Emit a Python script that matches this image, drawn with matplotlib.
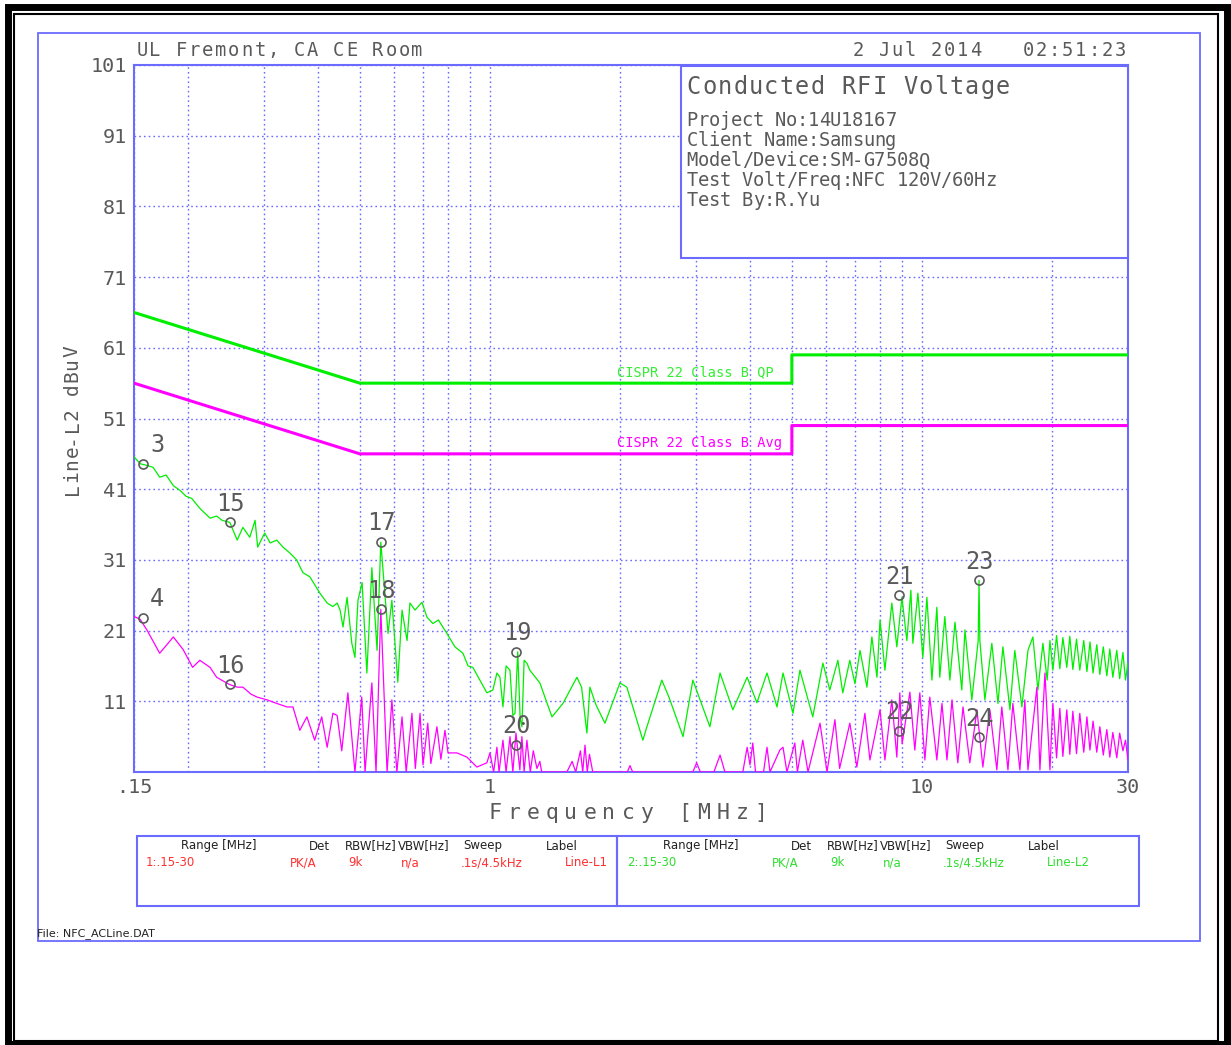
import matplotlib
matplotlib.use('Agg')
import matplotlib.pyplot as plt
from matplotlib.patches import Rectangle
from matplotlib.transforms import Affine2D

# ===================== Data =====================
# Line-L2 peak trace (green), MHz / dBuV
green_f = [0.150, 0.155, 0.160, 0.166, 0.172, 0.178, 0.185, 0.192, 0.198, 0.204,
           0.213, 0.225, 0.233, 0.240, 0.250, 0.260, 0.268, 0.278, 0.286, 0.290,
           0.301, 0.310, 0.321, 0.332, 0.344, 0.357, 0.369, 0.383, 0.404, 0.420,
           0.433, 0.443, 0.450, 0.457, 0.467, 0.479, 0.487, 0.495, 0.506, 0.519,
           0.533, 0.548, 0.559, 0.581, 0.593, 0.612, 0.626, 0.643, 0.653, 0.671,
           0.696, 0.715, 0.738, 0.760, 0.795, 0.830, 0.866, 0.890, 0.913, 0.948,
           0.984, 1.016, 1.038, 1.055, 1.072, 1.090, 1.113, 1.130, 1.143, 1.160,
           1.175, 1.186, 1.200, 1.218, 1.237, 1.305, 1.392, 1.476, 1.590, 1.630,
           1.677, 1.704, 1.760, 1.846, 2.000, 2.075, 2.260, 2.309, 2.500, 2.600,
           2.800, 2.950, 3.230, 3.410, 3.650, 3.940, 4.150, 4.380, 4.620, 4.770,
           5.030, 5.220, 5.590, 5.900, 6.120, 6.390, 6.560, 6.810, 7.000, 7.190,
           7.460, 7.660, 7.870, 8.000, 8.210, 8.520, 8.750, 8.990, 9.230, 9.430,
           9.530, 9.790, 10.05, 10.27, 10.55, 10.83, 11.00, 11.30, 11.61, 11.93,
           12.37, 12.58, 13.05, 13.50, 13.56, 13.62, 13.99, 14.52, 15.00, 15.40,
           15.99, 16.41, 17.04, 17.60, 18.07, 18.56, 19.06, 19.50, 19.79, 20.10,
           20.50, 20.86, 21.20, 21.65, 22.00, 22.36, 22.80, 23.20, 23.70, 24.10,
           24.50, 24.90, 25.40, 25.82, 26.30, 26.80, 27.23, 27.67, 28.26, 28.70,
           29.20, 29.60, 30.00]
green_db = [45.6, 44.6, 44.4, 44.1, 42.7, 43.0, 41.5, 40.8, 40.0, 39.7,
            38.3, 36.9, 37.2, 36.6, 36.3, 33.8, 35.6, 34.2, 36.6, 32.8,
            34.8, 33.4, 33.8, 32.8, 32.0, 31.0, 29.2, 28.6, 26.3, 24.9,
            24.4, 24.9, 23.9, 21.5, 25.7, 19.2, 17.2, 25.3, 27.8, 15.0,
            29.9, 18.2, 33.5, 20.6, 25.3, 13.7, 23.9, 19.6, 24.9, 23.9,
            25.0, 22.9, 22.0, 22.5, 20.6, 18.7, 17.8, 16.0, 15.8, 14.0,
            12.2, 12.6, 15.0, 14.4, 10.2, 16.0, 15.4, 9.0, 9.3, 18.0,
            8.5, 7.4, 16.8, 16.4, 15.4, 13.6, 8.8, 10.7, 14.4, 13.0,
            6.5, 13.0, 10.5, 7.9, 13.6, 13.0, 5.5, 7.4, 14.0, 11.5,
            6.0, 14.0, 7.4, 15.0, 9.8, 14.4, 10.8, 15.0, 10.2, 15.0,
            9.3, 15.4, 8.8, 16.4, 12.6, 16.8, 12.2, 16.8, 13.5, 18.2,
            13.0, 20.1, 14.4, 22.5, 15.4, 24.9, 18.7, 25.7, 19.6, 26.7,
            19.2, 26.3, 17.2, 25.7, 14.0, 24.3, 14.4, 23.0, 14.0, 22.2,
            12.6, 21.1, 11.2, 19.6, 28.1, 19.6, 11.2, 19.2, 10.7, 18.7,
            9.8, 18.2, 10.2, 18.2, 20.1, 12.6, 19.2, 14.0, 19.6, 15.4,
            20.3, 15.6, 20.0, 15.8, 20.2, 15.5, 19.8, 15.4, 19.6, 15.2,
            19.4, 15.0, 19.0, 14.8, 18.7, 14.6, 18.4, 14.4, 18.2, 14.2,
            17.9, 14.0, 16.5]

# Line-L2 average trace (magenta)
mag_f = [0.150, 0.155, 0.161, 0.172, 0.185, 0.195, 0.205, 0.213, 0.225, 0.233,
         0.249, 0.260, 0.268, 0.280, 0.289, 0.305, 0.321, 0.339, 0.350, 0.363,
         0.377, 0.393, 0.408, 0.420, 0.433, 0.443, 0.454, 0.469, 0.487, 0.505,
         0.514, 0.533, 0.545, 0.559, 0.578, 0.593, 0.609, 0.626, 0.640, 0.660,
         0.672, 0.689, 0.700, 0.718, 0.730, 0.754, 0.770, 0.787, 0.800, 0.839,
         0.885, 0.933, 0.984, 1.000, 1.020, 1.038, 1.050, 1.072, 1.090, 1.113,
         1.130, 1.149, 1.173, 1.186, 1.200, 1.218, 1.240, 1.260, 1.285, 1.305,
         1.318, 1.507, 1.550, 1.580, 1.620, 1.640, 1.660, 1.680, 1.700, 1.730,
         2.080, 2.110, 2.140, 2.950, 3.010, 3.070, 3.300, 3.410, 3.500, 3.850,
         3.940, 4.000, 4.060, 4.120, 4.300, 4.380, 4.450, 4.690, 4.770, 4.870,
         5.080, 5.150, 5.300, 5.450, 5.810, 6.030, 6.290, 6.450, 6.810, 7.070,
         7.380, 7.580, 8.000, 8.210, 8.520, 8.750, 8.890, 9.000, 9.380, 9.630,
         9.890, 10.16, 10.43, 10.83, 11.13, 11.43, 11.74, 12.11, 12.45, 12.91,
         13.41, 13.84, 14.37, 14.91, 15.31, 15.82, 16.24, 16.86, 17.31, 17.60,
         18.46, 18.76, 19.27, 19.79, 20.10, 20.50, 20.86, 21.20, 21.65, 22.00,
         22.36, 22.80, 23.20, 23.70, 24.10, 24.49, 24.90, 25.40, 25.82, 26.30,
         26.80, 27.23, 27.67, 28.26, 28.70, 29.20, 29.60, 30.00]
mag_db = [23.0, 22.6, 21.0, 17.8, 20.1, 18.3, 15.8, 16.8, 15.8, 14.4,
          13.4, 13.0, 13.0, 12.0, 11.6, 11.2, 10.7, 10.2, 10.2, 6.9,
          8.8, 5.5, 8.8, 4.5, 9.3, 9.0, 4.0, 12.2, 1.0, 11.6,
          1.0, 13.6, 1.0, 24.0, 1.0, 11.2, 1.0, 8.8, 1.0, 9.3,
          1.5, 9.3, 2.0, 7.9, 2.2, 7.4, 2.8, 6.9, 3.7, 3.7,
          3.1, 1.7, 2.3, 3.7, 1.0, 4.5, 1.0, 5.5, 1.0, 6.0,
          1.0, 6.5, 1.3, 6.0, 1.0, 5.5, 1.0, 4.0, 1.5, 2.5,
          1.0, 1.0, 2.5, 1.0, 4.0, 1.0, 4.8, 1.0, 3.5, 1.0,
          1.0, 1.9, 1.0, 1.0, 2.3, 1.0, 1.0, 3.4, 1.0, 1.0,
          4.5, 2.0, 5.1, 1.0, 1.0, 4.5, 1.0, 4.1, 4.5, 1.0,
          5.1, 1.0, 5.5, 1.0, 7.9, 1.0, 8.4, 1.5, 7.9, 1.7,
          9.3, 2.7, 9.8, 2.7, 11.2, 3.1, 12.2, 5.0, 12.3, 4.1,
          12.2, 2.7, 11.6, 2.7, 10.7, 2.7, 11.2, 2.3, 10.2, 2.3,
          9.8, 1.7, 9.8, 1.3, 10.2, 1.3, 10.7, 1.3, 11.2, 1.3,
          13.0, 1.3, 15.0, 1.3, 10.7, 3.0, 10.0, 3.2, 9.8, 3.5,
          9.6, 3.6, 9.3, 3.8, 8.8, 4.1, 8.2, 3.8, 7.4, 3.4,
          7.0, 3.1, 6.6, 3.0, 6.5, 4.0, 5.5, 2.7]

# CISPR 22 Class B limits
limit_f = [0.15, 0.5, 5.0, 5.0, 30.0]
qp_limit = [66, 56, 56, 60, 60]
avg_limit = [56, 46, 46, 50, 50]

# marker numbers, frequencies and levels
marker_ids = ['3', '4', '15', '16', '17', '18', '19', '20', '21', '22', '23', '24']
marker_f = [0.157, 0.157, 0.25, 0.25, 0.559, 0.559, 1.149, 1.149, 8.85, 8.85, 13.56, 13.56]
marker_db = [44.6, 22.8, 36.3, 13.4, 33.5, 24.0, 18.0, 4.8, 26.0, 6.8, 28.1, 5.9]

x_ticks = [0.15, 1, 10, 30]
x_ticklabels = ['.15', '1', '10', '30']
y_ticks = [1, 11, 21, 31, 41, 51, 61, 71, 81, 91, 101]
grid_f = [0.2, 0.3, 0.4, 0.5, 0.6, 0.7, 0.8, 0.9, 1, 2, 3, 4, 5, 6, 7, 8, 9, 10, 20]

info_lines = ['Project No:14U18167', 'Client Name:Samsung', 'Model/Device:SM-G7508Q',
              'Test Volt/Freq:NFC 120V/60Hz', 'Test By:R.Yu']

# ===================== Figure =====================
W, H = 1231, 1045
BLUE = '#6b6bff'
GRAY = '#5a5a5a'
GREEN = '#00ee00'
MAGENTA = '#ff00ff'
plt.rcParams['font.family'] = 'DejaVu Sans Mono'

fig = plt.figure(figsize=(W / 100, H / 100), dpi=100)
# pixel coords, origin top-left
pix = Affine2D().scale(1.0 / W, -1.0 / H).translate(0, 1) + fig.transFigure


def spaced(x, y, s, pitch, size, color=GRAY, vertical=False):
    # stroke-font look: fixed wide pitch per character
    for i, ch in enumerate(s):
        if vertical:
            fig.text(x, y - i * pitch, ch, rotation=90, ha='center', va='center',
                     fontsize=size, color=color, transform=pix)
        else:
            fig.text(x + i * pitch, y, ch, ha='center', va='center',
                     fontsize=size, color=color, transform=pix)


# frames
fig.add_artist(Rectangle((8, 7), 1219, 1037, fill=False, ec='black', lw=5, transform=pix))
fig.add_artist(Rectangle((14, 14), 1204, 1027, fill=False, ec='black', lw=1.5, transform=pix))
fig.add_artist(Rectangle((38, 33), 1162, 908, fill=False, ec=BLUE, lw=1.3, transform=pix))

L, R, T, B = 134, 1128, 65, 772
ax = fig.add_axes([L / W, 1 - B / H, (R - L) / W, (B - T) / H])
ax.set_xscale('log')
ax.set_xlim(0.15, 30)
ax.set_ylim(1, 101)

ax.set_xticks(x_ticks)
ax.set_xticklabels(x_ticklabels)
ax.set_xticks(grid_f, minor=True)
ax.xaxis.set_minor_formatter(plt.NullFormatter())
ax.set_yticks(y_ticks)
ax.set_yticklabels([''] + [str(v) for v in y_ticks[1:]])
ax.tick_params(which='both', length=0, labelsize=14.5, labelcolor=GRAY)
ax.tick_params(axis='y', pad=5)
ax.tick_params(axis='x', pad=4)
ax.grid(True, which='both', color=BLUE, linestyle=(0, (1.2, 2.2)), lw=1.0)
for s in ax.spines.values():
    s.set_color(BLUE)
    s.set_linewidth(1.5)

# traces and limits
ax.plot(green_f, green_db, color=GREEN, lw=0.9, zorder=3)
ax.plot(mag_f, mag_db, color=MAGENTA, lw=0.9, zorder=3)
ax.plot(limit_f, qp_limit, color=GREEN, lw=2.2, zorder=4)
ax.plot(limit_f, avg_limit, color=MAGENTA, lw=2.2, zorder=4)
ax.text(1.97, 57.6, 'CISPR 22 Class B QP', color='#33ee33', fontsize=9.8, va='center')
ax.text(1.97, 47.6, 'CISPR 22 Class B Avg', color=MAGENTA, fontsize=9.8, va='center')

# markers
ax.plot(marker_f, marker_db, 'o', ms=6.5, mfc='none', mec=GRAY, mew=1.2, zorder=5)
for m, f, d in zip(marker_ids, marker_f, marker_db):
    dx = 5.5 if m in ('3', '4') else 0.7
    ax.annotate(m, (f, d), xytext=(dx, 13.5), textcoords='offset points',
                ha='left' if m in ('3', '4') else 'center', va='center',
                fontsize=17, color=GRAY, zorder=6)

# info box
fig.add_artist(Rectangle((681, 66), 447, 192, fc='white', ec=BLUE, lw=1.5,
                         transform=pix, zorder=2))
spaced(694, 87, 'Conducted RFI Voltage', 15.45, 17)
for i, line in enumerate(info_lines):
    spaced(692, 121 + 20 * i, line, 11.05, 13.5)

# header / axis titles
spaced(142, 50, 'UL Fremont, CA CE Room', 13.1, 13.5)
spaced(858, 50, '2 Jul 2014   02:51:23', 13.1, 13.5)
spaced(495, 813, 'Frequency [MHz]', 19.0, 15.5)
spaced(72, 489, 'Line-L2 dBuV', 12.5, 14, vertical=True)

# bottom settings table
fig.add_artist(Rectangle((137, 836), 480, 70, fill=False, ec=BLUE, lw=1.5, transform=pix))
fig.add_artist(Rectangle((617, 836), 522, 70, fill=False, ec=BLUE, lw=1.5, transform=pix))
heads = ['Range [MHz]', 'Det', 'RBW[Hz]', 'VBW[Hz]', 'Sweep', 'Label']
head_x = [219, 319, 371, 424, 483, 562]
row1 = ['PK/A', '9k', 'n/a', '.1s/4.5kHz', 'Line-L1']
row2 = ['PK/A', '9k', 'n/a', '.1s/4.5kHz', 'Line-L2']
row_x = [303, 355, 410, 492, 586]
for off, row, first, col in [(0, row1, '1:.15-30', '#ff3030'), (482, row2, '2:.15-30', '#30dd30')]:
    for h, x in zip(heads, head_x):
        fig.text(x + off, 846, h, ha='center', va='center', fontsize=8.5,
                 family='DejaVu Sans', color='#222222', transform=pix)
    fig.text(146 + off - (1 if off else 0), 863, first, ha='left', va='center', fontsize=8.5,
             family='DejaVu Sans', color=col, transform=pix)
    for v, x in zip(row, row_x):
        fig.text(x + off, 863, v, ha='center', va='center', fontsize=8.5,
                 family='DejaVu Sans', color=col, transform=pix)

fig.text(37, 934, 'File: NFC_ACLine.DAT', ha='left', va='center', fontsize=8,
         family='DejaVu Sans', color='#222222', transform=pix)

fig.savefig('out.png', dpi=100)
